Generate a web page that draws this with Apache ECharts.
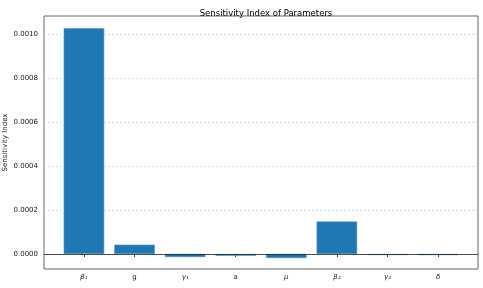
<!DOCTYPE html>
<html><head><meta charset="utf-8">
<script src="https://cdn.jsdelivr.net/npm/echarts@6/dist/echarts.min.js"></script>
<style>html,body{margin:0;padding:0;background:#fff}#c{width:483px;height:288px}</style>
</head><body><div id="c"></div>
<script>
const categories = ['{i|β₁}', 'g', '{i|γ₁}', 'a', '{i|μ}', '{i|β₂}', '{i|γ₂}', '{i|δ}'];
const values = [0.001027, 0.0000423, -0.0000136, -0.0000077, -0.0000182, 0.000148, -0.0000045, -0.000005];
const yTicks = [0, 0.0002, 0.0004, 0.0006, 0.0008, 0.0010];
const xTicks = [0, 1, 2, 3, 4, 5, 6, 7];

const font = 'DejaVu Sans';
const chart = echarts.init(document.getElementById('c'), null, {renderer: 'canvas'});
chart.setOption({
  animation: false,
  title: {text: 'Sensitivity Index of Parameters', left: 261, top: 4, textAlign: 'center',
    textStyle: {fontFamily: font, fontSize: 8.5, fontWeight: 'normal', color: '#000'}},
  grid: {left: 44, right: 5, top: 16, bottom: 19, containLabel: false, outerBoundsMode: 'none',
    show: true, borderColor: '#666', borderWidth: 1},
  xAxis: {
    type: 'value', min: -0.79, max: 7.79,
    axisLine: {show: false},
    splitLine: {show: false},
    axisTick: {show: true, length: 3, lineStyle: {color: '#444'}, customValues: xTicks},
    axisLabel: {customValues: xTicks, fontFamily: font, fontSize: 7, color: '#222', margin: 5,
      formatter: v => categories[Math.round(v)] || '',
      rich: {i: {fontStyle: 'italic', fontFamily: font, fontSize: 7, color: '#222'}}}
  },
  yAxis: {
    type: 'value', min: -0.0000682, max: 0.001083,
    name: 'Sensitivity Index', nameLocation: 'middle', nameGap: 35, nameMoveOverlap: false,
    nameTextStyle: {fontFamily: font, fontSize: 7, color: '#222'},
    axisLine: {show: false},
    axisTick: {show: true, length: 3, lineStyle: {color: '#444'}, customValues: yTicks},
    axisLabel: {customValues: yTicks, fontFamily: font, fontSize: 7, color: '#222', margin: 6,
      formatter: v => v.toFixed(4)},
    splitLine: {show: true, lineStyle: {color: '#d4d4d4', type: [2, 2], width: 0.8}}
  },
  series: [{
    type: 'bar',
    data: categories.map((c, i) => [i, values[i]]),
    barWidth: 40.5,
    itemStyle: {color: '#1f77b4', borderColor: '#4f93c6', borderWidth: 0.6},
    markLine: {
      silent: true, symbol: 'none', label: {show: false},
      data: [{yAxis: 0}],
      lineStyle: {color: '#222', type: 'solid', width: 0.8}
    },
    z: 2
  }]
});
</script></body></html>
